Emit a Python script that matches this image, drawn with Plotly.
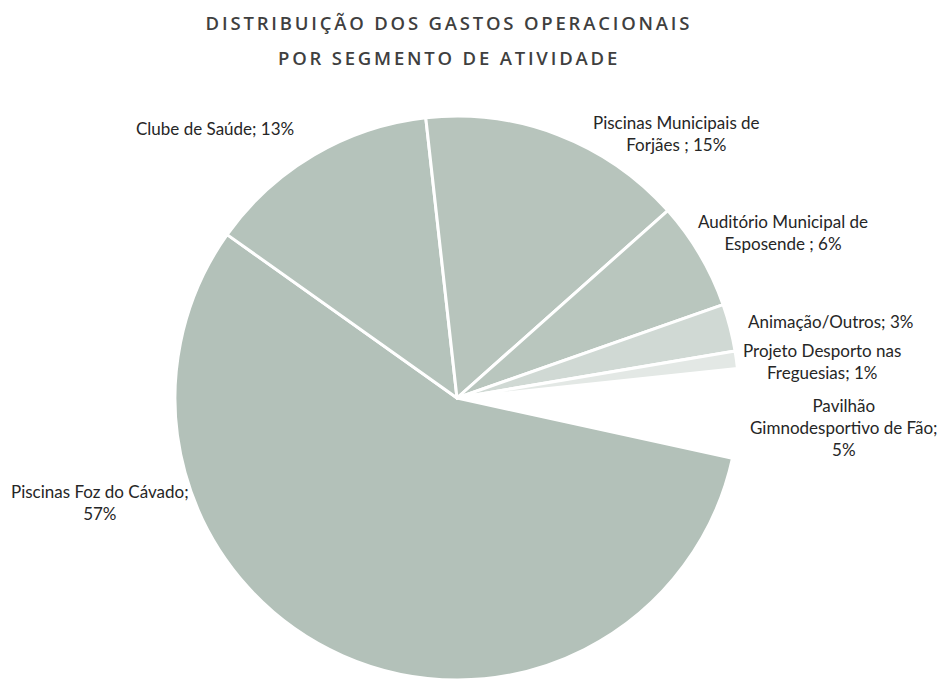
import plotly.graph_objects as go

labels = ["Pavilhão Gimnodesportivo de Fão", "Piscinas Foz do Cávado", "Clube de Saúde",
          "Piscinas Municipais de Forjães", "Auditório Municipal de Esposende",
          "Animação/Outros", "Projeto Desporto nas Freguesias"]
values = [5.1, 56.4, 13.4, 15.2, 6.2, 2.7, 1.0]
shown_pct = ["5%", "57%", "13%", "15%", "6%", "3%", "1%"]
colors = ["#ffffff", "#b3c1b9", "#b5c3bb", "#b7c4bc", "#b9c6be", "#d0d9d4", "#e3e8e5"]

title_lines = ["DISTRIBUIÇÃO DOS GASTOS OPERACIONAIS", "POR SEGMENTO DE ATIVIDADE"]

# label text layout (line breaks as in the reference)
label_text = [
    "Pavilhão<br>Gimnodesportivo de Fão;<br>" + shown_pct[0],
    "Piscinas Foz do Cávado;<br>" + shown_pct[1],
    "Clube de Saúde; " + shown_pct[2],
    "Piscinas Municipais de<br>Forjães ; " + shown_pct[3],
    "Auditório Municipal de<br>Esposende ; " + shown_pct[4],
    "Animação/Outros; " + shown_pct[5],
    "Projeto Desporto nas<br>Freguesias; " + shown_pct[6],
]
label_pos = [(844, 427), (100, 502), (215, 128), (676, 133), (783, 233), (830, 321), (822, 361)]

W, H = 946, 682
cx, cy, r = 457, 398, 282

fig = go.Figure(go.Pie(
    labels=labels, values=values, sort=False, direction="clockwise", rotation=84,
    marker=dict(colors=colors, line=dict(color="white", width=3)),
    textinfo="none", hoverinfo="label+percent", showlegend=False,
    domain=dict(x=[(cx - r) / W, (cx + r) / W], y=[1 - (cy + r) / H, 1 - (cy - r) / H]),
))

# title lines (first two annotations)
for txt, y in zip(title_lines, [23, 57]):
    fig.add_annotation(x=449 / W, y=1 - y / H, xref="paper", yref="paper", text=txt,
                       showarrow=False, xanchor="center", yanchor="middle",
                       font=dict(family="Open Sans", size=18.5, color="#3f3f3f", weight=600))

for txt, (x, y) in zip(label_text, label_pos):
    fig.add_annotation(x=x / W, y=1 - y / H, xref="paper", yref="paper", text=txt,
                       showarrow=False, align="center", xanchor="center", yanchor="middle",
                       font=dict(family="Lato", size=17, color="#262626"))

fig.update_layout(
    width=W, height=H, margin=dict(l=0, r=0, t=0, b=0),
    paper_bgcolor="white", plot_bgcolor="white",
)

fig.write_html("out.html", post_script="""
document.querySelectorAll('.annotation[data-index="0"] text, .annotation[data-index="1"] text')
  .forEach(function(e){e.style.letterSpacing='2.8px';});
""")
